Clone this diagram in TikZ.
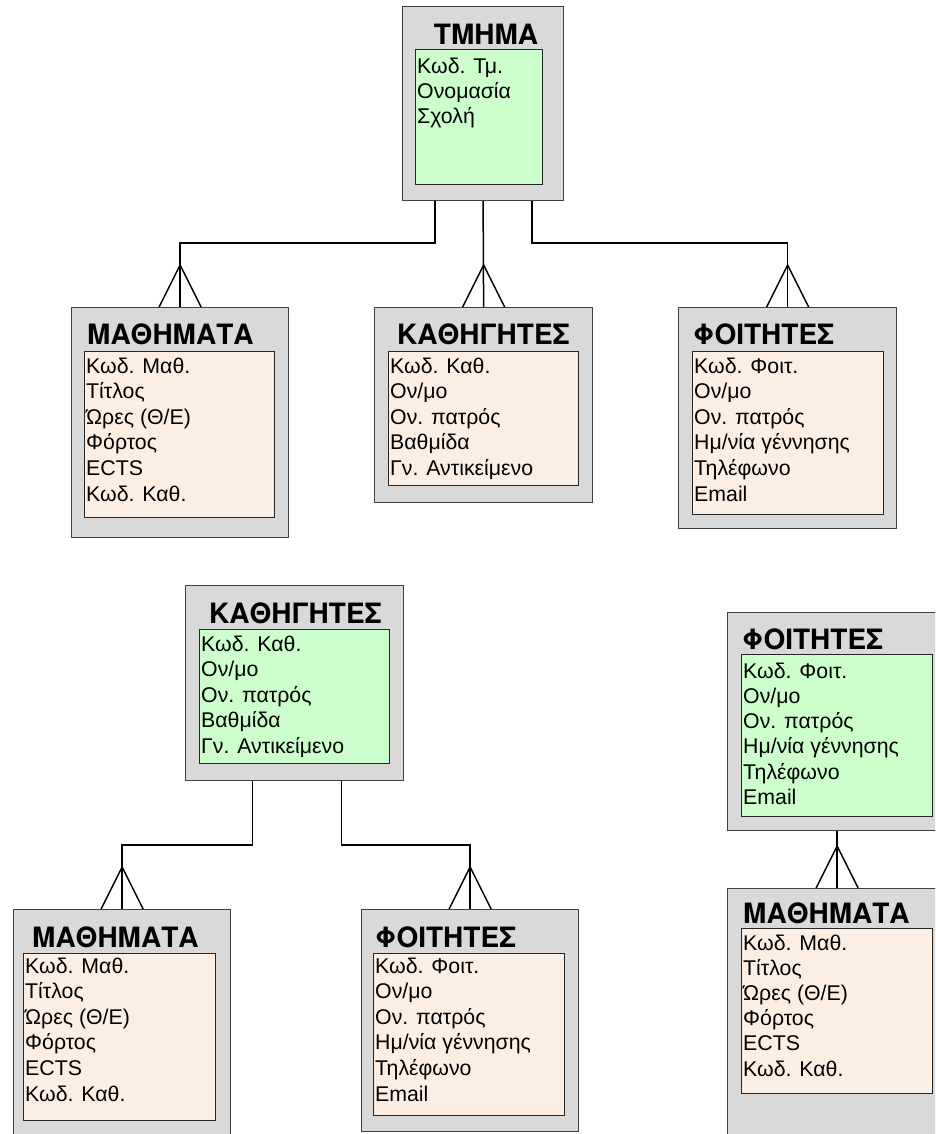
\documentclass[tikz,border=0pt]{standalone}
\usepackage{fontspec}
\setmainfont{Liberation Sans}
\newfontfamily\titlefont{texgyreheros-bold.otf}
\definecolor{boxgray}{RGB}{217,217,217}
\definecolor{keygreen}{RGB}{204,255,204}
\definecolor{peach}{RGB}{253,238,228}
\newcommand\attrlist[5]{% name, x, first baseline, skip, list
  \foreach \t [count=\i] in {#5} {\node[attr] (#1-\i) at (#2,{#3+(\i-1)*#4}) {\t};}}
\newcommand\crowfoot[1]{%
  \draw[conn] ([xshift=-21pt]#1.north) -- ([yshift=42pt]#1.north) -- ([xshift=21pt]#1.north);}
\begin{document}
\begin{tikzpicture}[x=1pt,y=-1pt,
  outerbox/.style={draw=black!75, fill=boxgray, line width=1.2pt, anchor=north west, inner sep=0},
  greenbox/.style={draw=black!85, fill=keygreen, line width=1pt, anchor=north west, inner sep=0},
  peachbox/.style={draw=black!85, fill=peach, line width=1pt, anchor=north west, inner sep=0},
  title/.style={font=\titlefont\fontsize{28}{30}\selectfont, anchor=west, inner sep=0},
  attr/.style={font=\fontsize{21.3}{25}\selectfont, anchor=base west, inner sep=0},
  conn/.style={line width=1.5pt, draw=black}]
\useasboundingbox (0,0) rectangle (935,1134);
\clip (0,0) rectangle (935,1134);
\fill[white] (0,0) rectangle (935,1134);

% ---------- TMHMA ----------
\node[outerbox, minimum width=161, minimum height=194] (t) at (402,6) {};
\node[greenbox, minimum width=127, minimum height=135] (ti) at (415,49) {};
\node[title, anchor=center] (tt) at (486,34) {ΤΜΗΜΑ};
\attrlist{ta}{417}{74}{25}{Κωδ. Τμ., Ονομασία, Σχολή}

% ---------- top row ----------
\node[outerbox, minimum width=217, minimum height=230] (m1) at (71,307) {};
\node[peachbox, minimum width=190, minimum height=166] (m1i) at (84,351) {};
\node[title] (m1t) at (87,334) {ΜΑΘΗΜΑΤΑ};
\attrlist{m1a}{86}{373}{25.6}{Κωδ. Μαθ., Τίτλος, Ώρες (Θ/Ε), Φόρτος, ECTS, Κωδ. Καθ.}

\node[outerbox, minimum width=218, minimum height=195] (k1) at (374,307) {};
\node[peachbox, minimum width=190, minimum height=134] (k1i) at (388,351) {};
\node[title] (k1t) at (397,334) {ΚΑΘΗΓΗΤΕΣ};
\attrlist{k1a}{390}{373}{25.6}{Κωδ. Καθ., Ον/μο, Ον. πατρός, Βαθμίδα, Γν. Αντικείμενο}

\node[outerbox, minimum width=218, minimum height=221] (f1) at (678,307) {};
\node[peachbox, minimum width=191, minimum height=163] (f1i) at (692,351) {};
\node[title] (f1t) at (693,334) {ΦΟΙΤΗΤΕΣ};
\attrlist{f1a}{694}{373}{25.6}{Κωδ. Φοιτ., Ον/μο, Ον. πατρός, Ημ/νία γέννησης, Τηλέφωνο, Email}

% connectors from TMHMA
\draw[conn] ([xshift=-48pt]t.south) -- ++(0,42) -| (m1.north);
\draw[conn] (t.south) -- (k1.north);
\draw[conn] ([xshift=49pt]t.south) -- ++(0,42) -| (f1.north);
\crowfoot{m1}\crowfoot{k1}\crowfoot{f1}

% ---------- bottom-left group ----------
\node[outerbox, minimum width=218, minimum height=195] (k2) at (185,585) {};
\node[greenbox, minimum width=190, minimum height=134] (k2i) at (199,629) {};
\node[title] (k2t) at (209,613) {ΚΑΘΗΓΗΤΕΣ};
\attrlist{k2a}{201}{651}{25.6}{Κωδ. Καθ., Ον/μο, Ον. πατρός, Βαθμίδα, Γν. Αντικείμενο}

\node[outerbox, minimum width=217, minimum height=240] (m2) at (13,909) {};
\node[peachbox, minimum width=192, minimum height=167] (m2i) at (23,953) {};
\node[title] (m2t) at (32,937) {ΜΑΘΗΜΑΤΑ};
\attrlist{m2a}{25}{973}{25.6}{Κωδ. Μαθ., Τίτλος, Ώρες (Θ/Ε), Φόρτος, ECTS, Κωδ. Καθ.}

\node[outerbox, minimum width=217, minimum height=222] (f2) at (361,909) {};
\node[peachbox, minimum width=191, minimum height=162] (f2i) at (373,953) {};
\node[title] (f2t) at (375,937) {ΦΟΙΤΗΤΕΣ};
\attrlist{f2a}{375}{973}{25.6}{Κωδ. Φοιτ., Ον/μο, Ον. πατρός, Ημ/νία γέννησης, Τηλέφωνο, Email}

\draw[conn] ([xshift=-42pt]k2.south) -- ++(0,64) -| (m2.north);
\draw[conn] ([xshift=47pt]k2.south) -- ++(0,64) -| (f2.north);
\crowfoot{m2}\crowfoot{f2}

% ---------- right group ----------
\node[outerbox, minimum width=219, minimum height=218] (f3) at (727,612) {};
\node[greenbox, minimum width=191, minimum height=162] (f3i) at (741,654) {};
\node[title] (f3t) at (742,639) {ΦΟΙΤΗΤΕΣ};
\attrlist{f3a}{743}{678}{25.3}{Κωδ. Φοιτ., Ον/μο, Ον. πατρός, Ημ/νία γέννησης, Τηλέφωνο, Email}

\node[outerbox, minimum width=219, minimum height=260] (m3) at (727,888) {};
\node[peachbox, minimum width=191, minimum height=165] (m3i) at (741,928) {};
\node[title] (m3t) at (743,913) {ΜΑΘΗΜΑΤΑ};
\attrlist{m3a}{743}{950}{25.2}{Κωδ. Μαθ., Τίτλος, Ώρες (Θ/Ε), Φόρτος, ECTS, Κωδ. Καθ.}

\draw[conn] (f3.south) -- (m3.north);
\crowfoot{m3}
\end{tikzpicture}
\end{document}
